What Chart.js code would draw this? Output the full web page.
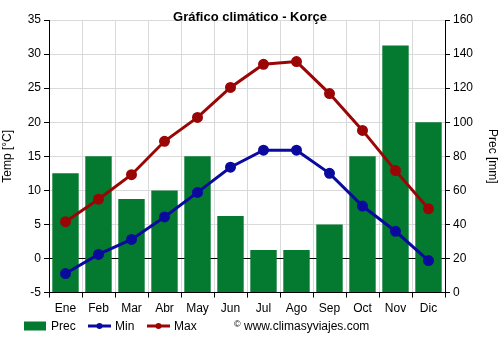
<!DOCTYPE html>
<html>
<head>
<meta charset="utf-8">
<script src="https://cdn.jsdelivr.net/npm/chart.js@4"></script>
<style>
  html, body { margin: 0; padding: 0; background: #fff; }
  #wrap { width: 500px; height: 350px; }
</style>
</head>
<body>
<div id="wrap"><canvas id="chart" width="500" height="350"></canvas></div>
<script>
const months = ['Ene', 'Feb', 'Mar', 'Abr', 'May', 'Jun', 'Jul', 'Ago', 'Sep', 'Oct', 'Nov', 'Dic'];
const precip = [70, 80, 55, 60, 80, 45, 25, 25, 40, 80, 145, 100];
const tempMin = [-2.2, 0.6, 2.8, 6.1, 9.7, 13.4, 15.9, 15.9, 12.5, 7.7, 4.0, -0.3];
const tempMax = [5.4, 8.7, 12.3, 17.2, 20.7, 25.1, 28.5, 28.9, 24.2, 18.8, 12.9, 7.3];

const green = '#037a2f';
const blue = '#0a0a9e';
const red = '#9a0606';
const font = 'Liberation Sans, Arial, sans-serif';

// title, legend and watermark drawn by hand to get the positions right
const extras = {
    id: 'extras',
    afterDraw(chart) {
        const ctx = chart.ctx;
        ctx.save();
        ctx.fillStyle = '#000';
        ctx.font = 'bold 13px ' + font;
        ctx.textAlign = 'center';
        ctx.textBaseline = 'middle';
        ctx.fillText('Gráfico climático - Korçe', 250, 17);

        ctx.font = '12px ' + font;
        ctx.textAlign = 'left';
        const ly = 326;
        ctx.fillStyle = green;
        ctx.fillRect(24, ly - 4.5, 22, 9);
        ctx.fillStyle = '#000';
        ctx.fillText(chart.data.datasets[2].label, 51, ly + 1);

        [[chart.data.datasets[0], 88, 115], [chart.data.datasets[1], 147, 174]].forEach(([ds, x, tx]) => {
            ctx.strokeStyle = ds.borderColor;
            ctx.lineWidth = 3;
            ctx.beginPath();
            ctx.moveTo(x, ly);
            ctx.lineTo(x + 23, ly);
            ctx.stroke();
            ctx.fillStyle = ds.borderColor;
            ctx.beginPath();
            ctx.arc(x + 11.5, ly, 3, 0, Math.PI * 2);
            ctx.fill();
            ctx.fillStyle = '#000';
            ctx.fillText(ds.label, tx, ly + 1);
        });

        ctx.font = '9px ' + font;
        ctx.fillText('©', 234, ly - 1);
        ctx.font = '12px ' + font;
        ctx.fillText('www.climasyviajes.com', 244, ly + 1);
        ctx.restore();
    }
};

const chart = new Chart(document.getElementById('chart').getContext('2d'), {
    data: {
        labels: months,
        datasets: [
            {
                type: 'line',
                label: 'Min',
                data: tempMin,
                yAxisID: 'y',
                borderColor: blue,
                backgroundColor: blue,
                borderWidth: 3,
                pointRadius: 4,
                pointHoverRadius: 4,
                order: 1,
            },
            {
                type: 'line',
                label: 'Max',
                data: tempMax,
                yAxisID: 'y',
                borderColor: red,
                backgroundColor: red,
                borderWidth: 3,
                pointRadius: 4,
                pointHoverRadius: 4,
                order: 0,
            },
            {
                type: 'bar',
                label: 'Prec',
                data: precip,
                yAxisID: 'y2',
                backgroundColor: green,
                barPercentage: 0.8,
                categoryPercentage: 1,
                order: 2,
            }
        ]
    },
    options: {
        responsive: false,
        animation: false,
        layout: { padding: { top: 20, bottom: 30, left: 0, right: 0 } },
        plugins: {
            legend: { display: false },
            title: { display: false },
            tooltip: { enabled: false },
        },
        scales: {
            x: {
                grid: {
                    offset: true,
                    color: '#d9d9d9',
                    tickColor: '#000',
                    tickLength: 5,
                },
                border: { color: '#000' },
                ticks: { color: '#000', font: { family: font, size: 12 }, padding: 4 },
            },
            y: {
                position: 'left',
                min: -5,
                max: 35,
                ticks: { stepSize: 5, color: '#000', font: { family: font, size: 12 }, padding: 3 },
                grid: {
                    color: (c) => c.tick && c.tick.value === 0 ? '#000' : '#d9d9d9',
                    tickColor: '#000',
                    tickLength: 5,
                },
                border: { color: '#000' },
                title: { display: true, text: 'Temp [°C]', color: '#000', font: { family: font, size: 12 }, padding: 0 },
                afterFit: (s) => { s.width = 49; },
            },
            y2: {
                position: 'right',
                min: 0,
                max: 160,
                ticks: {
                    stepSize: 10,
                    color: '#000',
                    font: { family: font, size: 12 },
                    padding: 3,
                    callback: (v) => v % 20 === 0 ? v : '',
                },
                grid: { drawOnChartArea: false, tickColor: '#000', tickLength: 5 },
                border: { color: '#000' },
                title: { display: true, text: 'Prec [mm]', color: '#000', font: { family: font, size: 12 }, padding: 0 },
                afterFit: (s) => { s.width = 55; },
            }
        }
    },
    plugins: [extras]
});
</script>
</body>
</html>
